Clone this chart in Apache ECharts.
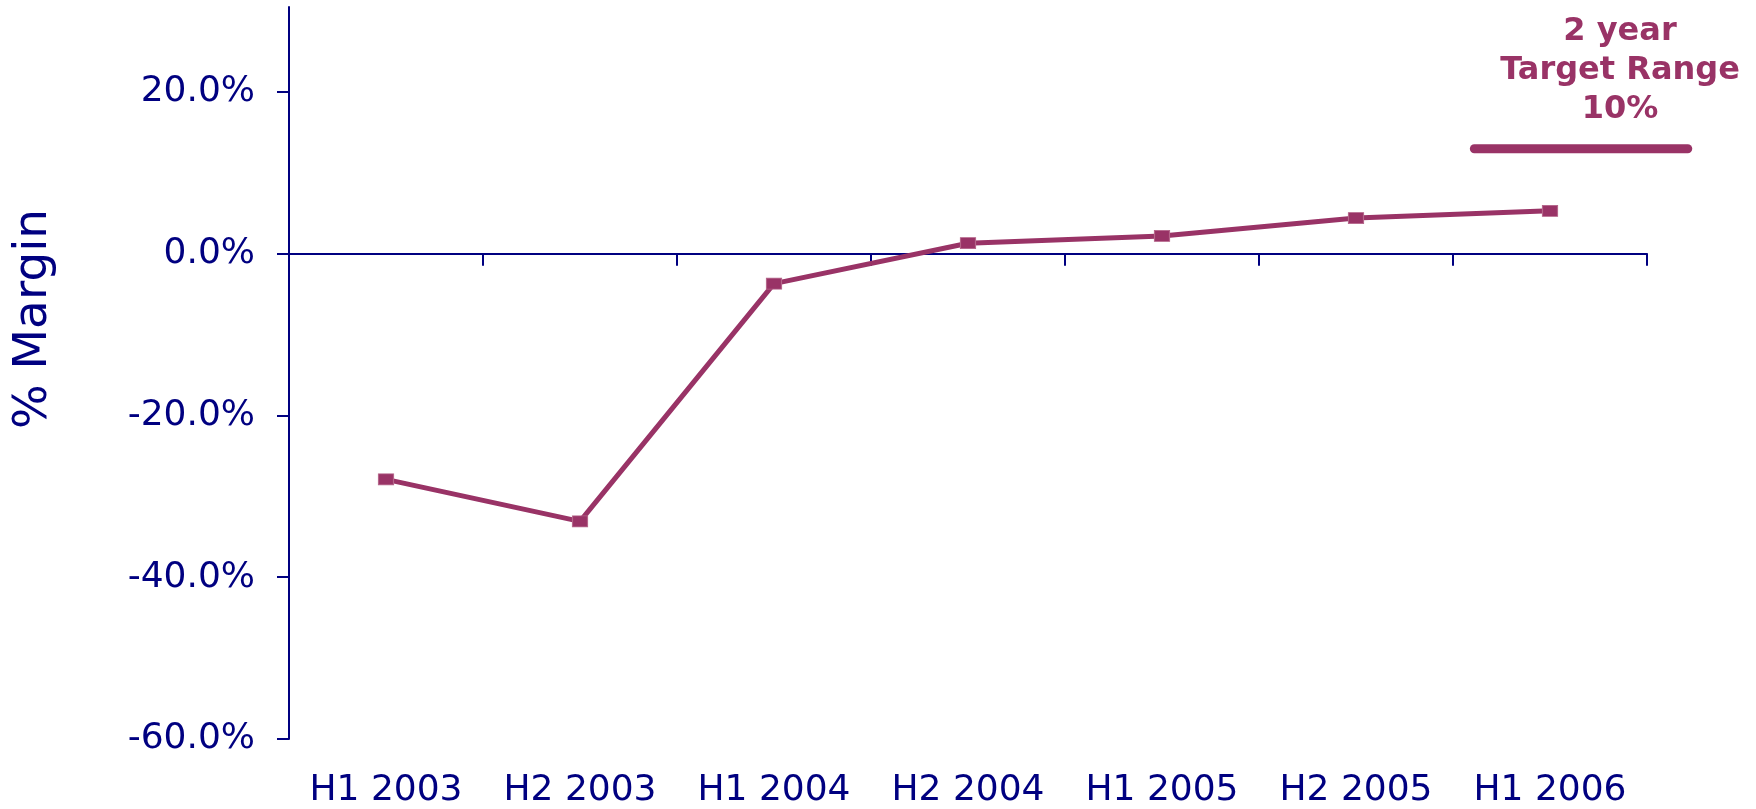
<!DOCTYPE html>
<html><head><meta charset="utf-8">
<script src="https://cdn.jsdelivr.net/npm/echarts@6/dist/echarts.min.js"></script>
<style>html,body{margin:0;padding:0;background:#fff}#c{width:1756px;height:809px}</style>
</head><body><div id="c"></div>
<script>
const categories = ['H1 2003','H2 2003','H1 2004','H2 2004','H1 2005','H2 2005','H1 2006'];
const marginValues = [-27.9, -33.1, -3.7, 1.3, 2.2, 4.4, 5.3];
const yTicks = [-60, -40, -20, 0, 20];
const targetLine = [[6.11, 13.0], [7.21, 13.0]];
const targetText = '2 year\nTarget Range\n10%';
const yTitle = '% Margin';

const navy = '#000080', plum = '#993366';
const chart = echarts.init(document.getElementById('c'));
chart.setOption({
  animation: false,
  grid: [
    {left: 289, right: 109, top: 7, bottom: 69},
    {left: 289, right: 12, top: 7, bottom: 69}
  ],
  xAxis: [
    {type: 'category', gridIndex: 0, data: categories, boundaryGap: true,
     axisLine: {onZero: true, lineStyle: {color: navy, width: 2}},
     axisTick: {show: true, length: 12, lineStyle: {color: navy, width: 2}},
     axisLabel: {show: false}, splitLine: {show: false}},
    {type: 'category', gridIndex: 0, data: categories, position: 'bottom', boundaryGap: true,
     axisLine: {show: false, onZero: false}, axisTick: {show: false},
     axisLabel: {color: navy, fontFamily: 'DejaVu Sans', fontSize: 36, margin: 34, interval: 0, hideOverlap: false}},
    {type: 'value', gridIndex: 1, min: 0, max: 7.5, show: false}
  ],
  yAxis: [
    {type: 'value', gridIndex: 0, min: -60, max: 30.5, interval: 20,
    axisLine: {show: true, lineStyle: {color: navy, width: 2}},
    axisTick: {show: true, length: 12, customValues: yTicks, lineStyle: {color: navy, width: 2}},
    axisLabel: {color: navy, fontFamily: 'DejaVu Sans', fontSize: 36, margin: 34, customValues: yTicks,
      formatter: v => v.toFixed(1) + '%'},
    splitLine: {show: false}},
    {type: 'value', gridIndex: 1, min: -60, max: 30.5, show: false}
  ],
  series: [
    {type: 'line', xAxisIndex: 0, yAxisIndex: 0, data: marginValues, symbol: 'rect', symbolSize: [15, 11],
     lineStyle: {color: plum, width: 5}, itemStyle: {color: plum, borderColor: '#b5668a', borderWidth: 1}},
    {type: 'line', xAxisIndex: 2, yAxisIndex: 1, data: targetLine, symbol: 'none',
     lineStyle: {color: plum, width: 9, cap: 'round'}}
  ],
  graphic: [
    {type: 'text', x: 1620, y: 12,
     style: {text: targetText, fill: plum, font: 'bold 32px "DejaVu Sans"', textAlign: 'center', lineHeight: 39}},
    {type: 'text', x: 34, y: 319, rotation: Math.PI / 2,
     style: {text: yTitle, fill: navy, font: '47px "DejaVu Sans"', textAlign: 'center', textVerticalAlign: 'middle'}}
  ]
});
</script></body></html>
